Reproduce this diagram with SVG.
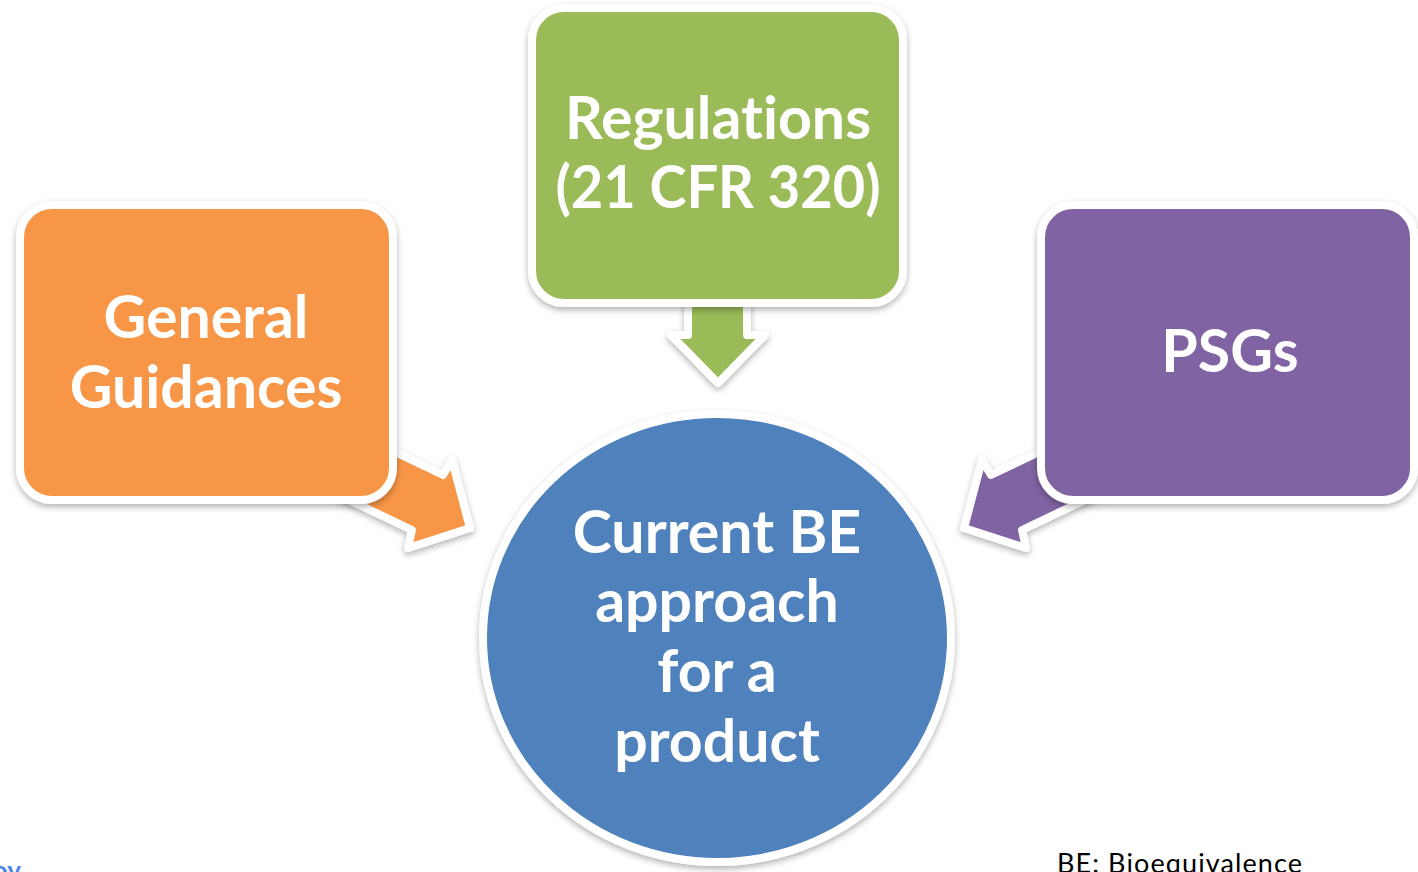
<svg xmlns="http://www.w3.org/2000/svg" width="1418" height="872" viewBox="0 0 1418 872">
<defs>
<filter id="sh" x="-20%" y="-20%" width="140%" height="140%">
<feDropShadow dx="0" dy="3" stdDeviation="3" flood-color="#000" flood-opacity="0.3"/>
</filter>
<style>
.shape{stroke:#fff;stroke-width:8;stroke-linejoin:round;filter:url(#sh)}
.org{fill:#F79646}.grn{fill:#9BBB59}.pur{fill:#8064A2}.blu{fill:#4F81BD}
.lbl{font-family:Lato,"Open Sans",sans-serif;font-weight:bold;font-size:59px;fill:#fff;text-anchor:middle;font-variant-ligatures:none}
</style>
</defs>
<rect width="1418" height="872" fill="#fff"/>
<g id="connectors">
<polygon class="shape org" points="353,432 443,475 452,460 470,528 408,548 412,530 322,487"/>
<polygon class="shape pur" points="1081,432 991,475 982,460 964,528 1026,548 1022,530 1112,487"/>
<polygon class="shape grn" points="688,250 747,250 747,335 765,335 718,383 671,335 688,335"/>
</g>
<g id="general">
<rect class="shape org" x="20" y="205" width="373" height="295" rx="32"/>
<text class="lbl" x="206" y="338">General</text>
<text class="lbl" x="206" y="408">Guidances</text>
</g>
<g id="regulations">
<rect class="shape grn" x="532" y="8" width="371" height="295" rx="32"/>
<text class="lbl" x="718" y="139">Regulations</text>
<text class="lbl" x="718" y="208" textLength="325" lengthAdjust="spacingAndGlyphs">(21 CFR 320)</text>
</g>
<g id="psgs">
<rect class="shape pur" x="1041" y="205" width="373" height="295" rx="32"/>
<text class="lbl" x="1230" y="372">PSGs</text>
</g>
<g id="current">
<ellipse class="shape blu" cx="717" cy="638" rx="234" ry="224"/>
<text class="lbl" x="717" y="553">Current BE</text>
<text class="lbl" x="717" y="622">approach</text>
<text class="lbl" x="717" y="692">for a</text>
<text class="lbl" x="717" y="762">product</text>
</g>
<text x="21" y="880" font-family="Lato,sans-serif" font-weight="bold" font-size="26" fill="#4A86E8" text-anchor="end">oy</text>
<text x="1057" y="873" font-family="Lato,sans-serif" font-size="27" fill="#000" textLength="245">BE: Bioequivalence</text>
</svg>
